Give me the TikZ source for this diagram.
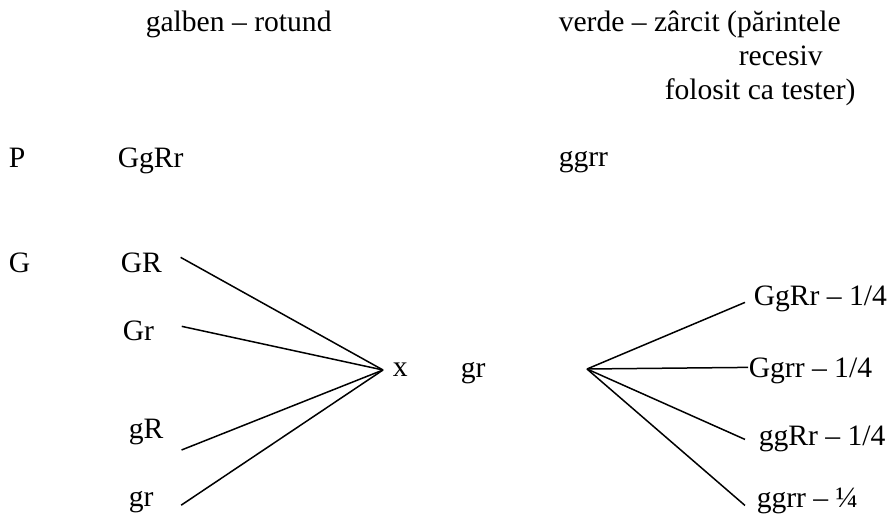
\documentclass[tikz,border=0pt]{standalone}
\usepackage{fontspec}
\setmainfont{Liberation Serif}
\usepackage{tikz}

\begin{document}
\begin{tikzpicture}[x=0.5pt, y=-0.5pt, line width=0.75pt,
    every node/.style={anchor=base west, inner sep=0pt, font=\fontsize{14.8}{17.8}\selectfont}]
  \useasboundingbox (0,0) rectangle (889,523);
  % parinti
  \node (galben) at (145,32) {galben – rotund};
  \node (verde) at (558,32) {verde – zârcit (părintele};
  \node (recesiv) at (738,66) {recesiv};
  \node (tester) at (664,100) {folosit ca tester)};
  \node (P) at (8,168) {P};
  \node (GgRr) at (117,168) {GgRr};
  \node (ggrr) at (558,167) {ggrr};
  % gameti
  \node (G) at (8,273) {G};
  \node (GR) at (120,273) {GR};
  \node (Gr) at (122,341) {Gr};
  \node (gR) at (128,439) {gR};
  \node (gr) at (128,507) {gr};
  \coordinate (cross) at (383,370);
  \node (x) at (392,377) {x};
  \node (grt) at (460,378) {gr};
  \draw ([xshift=9pt, yshift=3pt]GR.east) -- (cross);
  \draw ([xshift=13.5pt, yshift=2.5pt]Gr.east) -- (cross);
  \draw ([xshift=8.75pt, yshift=-8.75pt]gR.east) -- (cross);
  \draw ([xshift=13.5pt, yshift=-1.3pt]gr.east) -- (cross);
  % descendenti
  \coordinate (split) at (587,369);
  \node (o1) at (753,306) {GgRr – 1/4};
  \node (o2) at (748,378) {Ggrr – 1/4};
  \node (o3) at (758,446) {ggRr – 1/4};
  \node (o4) at (756,508) {ggrr – ¼};
  \draw (split) -- ([xshift=-4pt, yshift=-1.5pt]o1.west);
  \draw (split) -- ([yshift=2pt]o2.west);
  \draw (split) -- ([xshift=-6.5pt]o3.west);
  \draw (split) -- ([xshift=-5.5pt, yshift=-2pt]o4.west);
\end{tikzpicture}
\end{document}
